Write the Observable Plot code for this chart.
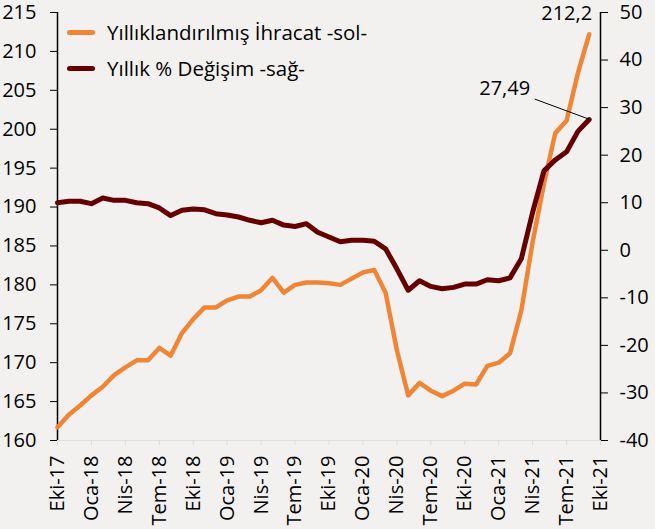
<!DOCTYPE html>
<html><head><meta charset="utf-8">
<script src="https://cdn.jsdelivr.net/npm/d3@7"></script>
<script src="https://cdn.jsdelivr.net/npm/@observablehq/plot@0.6"></script>
<style>
html,body{margin:0;padding:0;background:#f2f1ef;}
#wrap{position:relative;width:655px;height:529px;font-family:"Open Sans",sans-serif;}
.legend{position:absolute;left:67px;top:14px;font-size:20.5px;color:#000;line-height:1;}
.row{display:flex;align-items:center;height:36px;white-space:nowrap;}
.sw{width:28px;height:5px;border-radius:3px;margin-right:12px;}
</style></head><body><div id="wrap"></div>
<script>
const months = ["Eki-17","Kas-17","Ara-17","Oca-18","Şub-18","Mar-18","Nis-18","May-18","Haz-18","Tem-18","Ağu-18","Eyl-18",
"Eki-18","Kas-18","Ara-18","Oca-19","Şub-19","Mar-19","Nis-19","May-19","Haz-19","Tem-19","Ağu-19","Eyl-19",
"Eki-19","Kas-19","Ara-19","Oca-20","Şub-20","Mar-20","Nis-20","May-20","Haz-20","Tem-20","Ağu-20","Eyl-20",
"Eki-20","Kas-20","Ara-20","Oca-21","Şub-21","Mar-21","Nis-21","May-21","Haz-21","Tem-21","Ağu-21","Eyl-21"];
const exportsAnn = [161.7,163.3,164.5,165.8,166.9,168.4,169.4,170.3,170.3,171.9,170.9,173.8,
175.6,177.1,177.1,178.0,178.5,178.5,179.3,180.9,179.0,180.0,180.3,180.3,
180.2,180.0,180.8,181.6,181.9,179.0,171.6,165.8,167.4,166.4,165.7,166.4,
167.3,167.2,169.6,170.0,171.2,176.7,185.5,193.0,199.5,201.1,207.2,212.2];
const changePct = [10.0,10.3,10.3,9.8,11.0,10.5,10.5,10.0,9.8,8.9,7.3,8.4,
8.7,8.5,7.7,7.4,7.0,6.3,5.8,6.3,5.3,5.0,5.6,3.8,
2.8,1.8,2.1,2.1,1.9,0.3,-3.9,-8.4,-6.4,-7.6,-8.1,-7.8,
-7.1,-7.1,-6.2,-6.4,-5.8,-1.8,8.0,16.7,19.0,20.7,25.0,27.49];
const tickLabels = ["Eki-17","Oca-18","Nis-18","Tem-18","Eki-18","Oca-19","Nis-19","Tem-19","Eki-19","Oca-20","Nis-20","Tem-20","Eki-20","Oca-21","Nis-21","Tem-21","Eki-21"];
const leftTicks = [160,165,170,175,180,185,190,195,200,205,210,215];
const rightTicks = [-40,-30,-20,-10,0,10,20,30,40,50];
const seriesNames = ["Yıllıklandırılmış İhracat -sol-","Yıllık % Değişim -sağ-"];
const colors = ["#f08536","#660000"];

const toLeft = d3.scaleLinear().domain([-40,50]).range([160,215]);
const fromLeft = toLeft.invert;
const rows = months.map((m,i)=>({i, m, a: exportsAnn[i], c: toLeft(changePct[i])}));
const last = rows[rows.length-1];
const fmt = (v,n)=>v.toFixed(n).replace(".",",");

const plot = Plot.plot({
  width: 655, height: 529,
  marginLeft: 57, marginRight: 55, marginTop: 12, marginBottom: 89,
  style: {background: "transparent", fontFamily: "'Open Sans', sans-serif", fontSize: "20px", color: "#000"},
  x: {type: "linear", domain: [0, 48]},
  y: {domain: [160, 215]},
  marks: [
    Plot.ruleY([160], {stroke: "#e2e0dd", strokeWidth: 1}),
    Plot.axisX({ticks: d3.range(0, 49, 3), tickFormat: d => tickLabels[d/3], tickRotate: -90, tickSize: 5, tickPadding: 10, stroke: "#dddad6", fill: "#000", fontSize: 20, label: null}),
    Plot.axisY({anchor: "left", ticks: leftTicks, tickFormat: d => String(d), tickSize: 7, tickPadding: 14, fontSize: 20, label: null}),
    Plot.axisY({anchor: "right", ticks: rightTicks.map(toLeft), tickFormat: d => String(Math.round(fromLeft(d))), tickSize: 7, tickPadding: 12, fontSize: 20, label: null}),
    Plot.ruleX([0], {stroke: "#000", strokeWidth: 1.5}),
    Plot.ruleX([48], {stroke: "#000", strokeWidth: 1.5}),
    Plot.line(rows, {x: "i", y: "a", stroke: colors[0], strokeWidth: 4.5, strokeLinejoin: "round", strokeLinecap: "round"}),
    Plot.line(rows, {x: "i", y: "c", stroke: colors[1], strokeWidth: 5, strokeLinejoin: "round", strokeLinecap: "round"}),
    (index, scales) => {
      const x = scales.x(last.i), y = scales.y(last.c);
      return d3.create("svg:line").attr("x1", x - 54).attr("y1", y - 20).attr("x2", x).attr("y2", y)
        .attr("stroke", "#000").attr("stroke-width", 1).node();
    },
    Plot.text([last], {x: "i", y: "a", text: d => fmt(d.a,1), dx: -22.5, dy: -21, fontSize: 20, fill: "#000"}),
    Plot.text([last], {x: "i", y: "c", text: () => fmt(changePct[changePct.length-1],2), dx: -84.5, dy: -31, fontSize: 20, fill: "#000"})
  ]
});
const wrap = document.getElementById("wrap");
wrap.appendChild(plot);
const lg = document.createElement("div");
lg.className = "legend";
seriesNames.forEach((n,k)=>{
  const r = document.createElement("div"); r.className = "row";
  const s = document.createElement("div"); s.className = "sw"; s.style.background = colors[k];
  const t = document.createElement("span"); t.textContent = n;
  r.appendChild(s); r.appendChild(t); lg.appendChild(r);
});
wrap.appendChild(lg);
</script></body></html>
